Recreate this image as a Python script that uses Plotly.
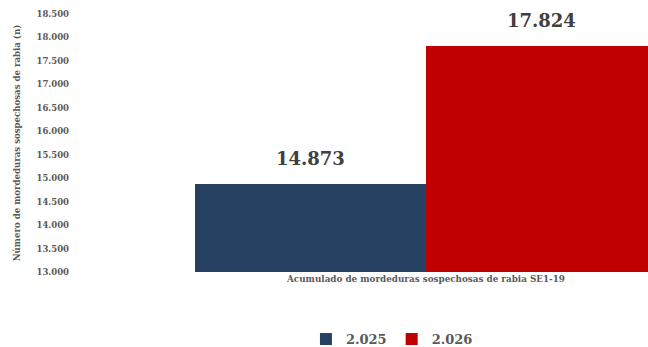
import plotly.graph_objects as go

# Accumulated suspected rabies bites, epidemiological weeks 1-19
categoria = ["Acumulado de mordeduras sospechosas de rabia SE1-19"]
anios = ["2.025", "2.026"]
valores = [14873, 17824]
colores = ["#264061", "#C00000"]

y_min, y_max = 13000, 18500
y_ticks = list(range(13000, 18501, 500))

FONT = "DejaVu Serif"
GRIS = "#595959"

fig = go.Figure()
for anio, valor, color in zip(anios, valores, colores):
    fig.add_trace(go.Bar(
        name=anio,
        x=categoria,
        y=[valor],
        marker=dict(color=color, line=dict(width=0)),
    ))

# Value labels above each bar
for i, valor in enumerate(valores):
    offset = -0.25 if i == 0 else 0.25
    fig.add_annotation(
        x=offset, y=valor, xref="x", yref="y",
        text=f"{valor:,}".replace(",", "."),
        showarrow=False, yanchor="bottom", yshift=13,
        font=dict(family=FONT, size=18, color="#404040", weight="bold"),
    )

fig.update_layout(
    width=648, height=347,
    margin=dict(l=70, r=0, t=14, b=75, autoexpand=False),
    paper_bgcolor="white", plot_bgcolor="white",
    barmode="group", bargap=0, bargroupgap=0,
    separators=",.",
    showlegend=True,
    legend=dict(
        orientation="h", x=0.557, xanchor="center", y=-0.26, yanchor="middle",
        font=dict(family=FONT, size=13, color=GRIS, weight="bold"),
        itemclick=False, itemwidth=30,
    ),
    font=dict(family=FONT, color=GRIS),
)

fig.update_xaxes(
    type="category",
    range=[-0.7706, 0.4805],
    showgrid=False, showline=False, zeroline=False, ticks="",
    tickfont=dict(family=FONT, size=8.8, color=GRIS, weight="bold"),
    automargin=False,
)

fig.update_yaxes(
    range=[y_min, y_max],
    tickvals=y_ticks,
    tickformat=",.0f",
    showgrid=False, showline=False, zeroline=False, ticks="",
    tickfont=dict(family=FONT, size=8.5, color=GRIS, weight="bold"),
    title=dict(
        text="Número de mordeduras sospechosas de rabia (n)",
        font=dict(family=FONT, size=8.6, color=GRIS, weight="bold"),
        standoff=14,
    ),
    automargin=False,
)

fig.write_html("out.html")
